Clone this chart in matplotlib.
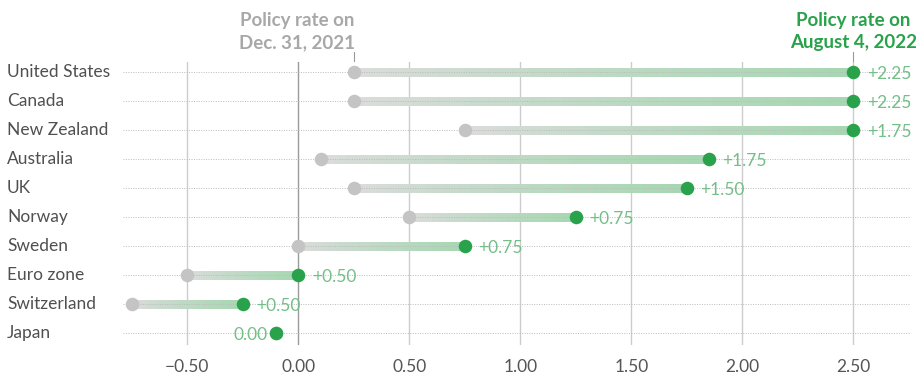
import numpy as np
import matplotlib
matplotlib.use("Agg")
import matplotlib.pyplot as plt
import matplotlib.transforms as mtransforms
from matplotlib.collections import LineCollection
from matplotlib.colors import to_rgba

plt.rcParams['font.family'] = ['Lato', 'DejaVu Sans']

# data
countries = ['United States', 'Canada', 'New Zealand', 'Australia', 'UK',
             'Norway', 'Sweden', 'Euro zone', 'Switzerland', 'Japan']
rate_dec21 = [0.25, 0.25, 0.75, 0.10, 0.25, 0.50, 0.00, -0.50, -0.75, -0.10]
rate_aug22 = [2.50, 2.50, 2.50, 1.85, 1.75, 1.25, 0.75, 0.00, -0.25, -0.10]
change_labels = ['+2.25', '+2.25', '+1.75', '+1.75', '+1.50',
                 '+0.75', '+0.75', '+0.50', '+0.50', '0.00']
xticks = [-0.5, 0.0, 0.5, 1.0, 1.5, 2.0, 2.5]

GREEN = '#2aa24c'
GREY = '#c4c4c4'
LABEL_GREEN = '#74be88'

fig = plt.figure(figsize=(9.16, 3.76), dpi=100)
ax = fig.add_axes([123 / 916, 1 - 345 / 376, (910 - 123) / 916, (345 - 62) / 376])

ax.set_xlim(-0.79, 2.755)
ax.set_ylim(9.42, -0.35)

# vertical gridlines
for t in xticks:
    ax.axvline(t, color='#9a9a9a' if t == 0 else '#cccccc', lw=1.0, zorder=0)

y = np.arange(len(countries))

# dotted row guides
for yi in y:
    ax.axhline(yi, color='#bbbbbb', lw=0.7, ls=(0, (1, 1.5)), zorder=3)

# gradient bars from old to new rate
c0 = np.array(to_rgba('#dcdcdc'))
c1 = np.array(to_rgba('#a6d7b1'))
for yi, a, b in zip(y, rate_dec21, rate_aug22):
    if b == a:
        continue
    n = 60
    xs = np.linspace(a, b, n + 1)
    segs = [[(xs[i], yi), (xs[i + 1], yi)] for i in range(n)]
    t = np.linspace(0, 1, n) ** 0.8
    cols = c0 + (c1 - c0) * t[:, None]
    ax.add_collection(LineCollection(segs, colors=cols, linewidths=5.3,
                                     capstyle='butt', antialiaseds=False,
                                     zorder=2))

ax.scatter(rate_dec21, y, s=95, color=GREY, zorder=4, linewidths=0)
ax.scatter(rate_aug22, y, s=95, color=GREEN, zorder=5, linewidths=0)

# change labels
for yi, b, lab in zip(y, rate_aug22, change_labels):
    if lab == '0.00':
        ax.text(b - 0.04, yi + 0.08, lab, ha='right', va='center',
                fontsize=12.5, color=LABEL_GREEN, zorder=6)
    else:
        ax.text(b + 0.06, yi + 0.08, lab, ha='left', va='center',
                fontsize=12.5, color=LABEL_GREEN, zorder=6)

# country labels, left-aligned at the figure edge
trans = mtransforms.blended_transform_factory(fig.transFigure, ax.transData)
for yi, name in zip(y, countries):
    ax.text(7 / 916, yi, name, transform=trans, ha='left', va='center',
            fontsize=12.5, color='#505050')
ax.set_yticks([])

ax.set_xticks(xticks)
ax.set_xticklabels([f'{t:.2f}'.replace('-', '\u2212') for t in xticks],
                   fontsize=12.5, color='#555555')
ax.tick_params(axis='x', length=0, pad=10)

for s in ax.spines.values():
    s.set_visible(False)

# header annotations
ax.plot([0.25, 0.25], [-0.7, -0.38], color='#999999', lw=0.8, clip_on=False)
ax.text(0.255, -0.72, 'Policy rate on\nDec. 31, 2021', ha='right', va='bottom',
        multialignment='center', fontsize=13.5, fontweight='bold',
        color='#a8a8a8', linespacing=1.35)
ax.plot([2.5, 2.5], [-0.7, -0.38], color='#999999', lw=0.8, clip_on=False)
ax.text(2.5, -0.72, 'Policy rate on\nAugust 4, 2022', ha='center', va='bottom',
        multialignment='center', fontsize=13.5, fontweight='bold',
        color=GREEN, linespacing=1.35)

fig.savefig('out.png', dpi=100)
